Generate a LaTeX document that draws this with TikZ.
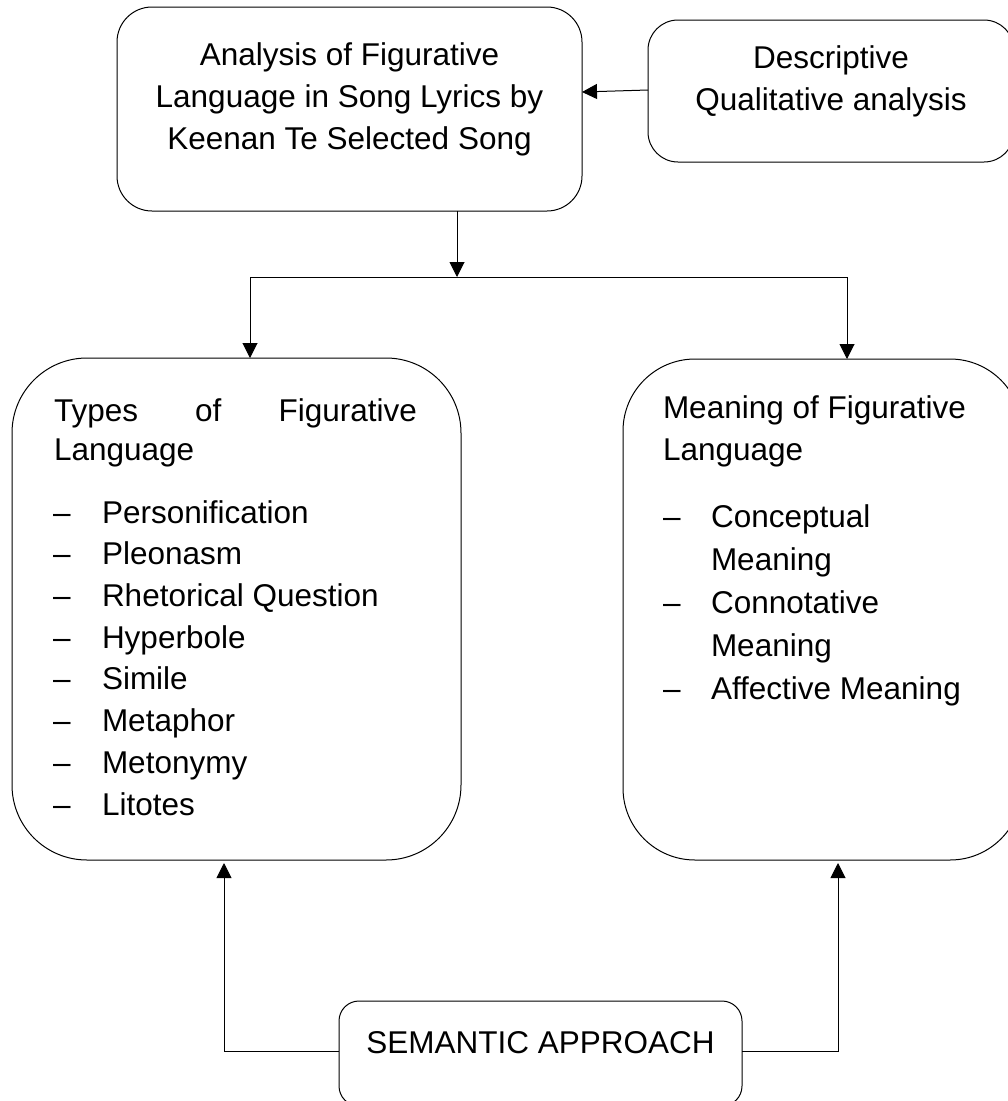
\documentclass[tikz,border=0pt]{standalone}
\usepackage{fontspec}
\setmainfont{Liberation Sans}
\usetikzlibrary{arrows.meta,calc}
\begin{document}
\begin{tikzpicture}[x=1pt,y=-1pt,
  box/.style={draw=black,line width=1pt,inner sep=0pt,outer sep=0pt,anchor=north west},
  txt/.style={inner sep=0pt,outer sep=0pt,anchor=base,font=\fontsize{31.5}{42}\selectfont},
  txtl/.style={txt,anchor=base west},
  arr/.style={line width=1pt,-{Triangle[length=15pt,width=15pt]}},
  ln/.style={line width=1pt}]
\useasboundingbox (0,0) rectangle (1008,1101);
\clip (0,0) rectangle (1008,1101);
% boxes
\node[box,rounded corners=35pt,minimum width=465pt,minimum height=204pt] (top) at (117,7) {};
\node[box,rounded corners=30pt,minimum width=366pt,minimum height=142pt] (desc) at (648,20) {};
\node[box,rounded corners=75pt,minimum width=449pt,minimum height=502pt] (left) at (12,358) {};
\node[box,rounded corners=72pt,minimum width=399pt,minimum height=501pt] (right) at (623,359) {};
\node[box,rounded corners=20pt,minimum width=403pt,minimum height=105pt] (sem) at (339,1001) {};
% texts
\node[txt] (t1) at (349.5,65) {Analysis of Figurative};
\node[txt] (t2) at (349.5,107) {Language in Song Lyrics by};
\node[txt] (t3) at (349.5,149) {Keenan Te Selected Song};
\node[txt] (d1) at (831,68) {Descriptive};
\node[txt] (d2) at (831,110) {Qualitative analysis};
\node[txt] (s1) at (540.5,1053) {SEMANTIC APPROACH};
% left box
\node[txtl] (lh1) at (54,421) {\makebox[363pt][s]{Types\hfill of\hfill Figurative}};
\node[txtl] (lh2) at (54,460) {Language};
\foreach \i/\t/\y in {1/Personification/523,2/Pleonasm/564.7,3/Rhetorical Question/606.4,4/Hyperbole/648.1,5/Simile/689.8,6/Metaphor/731.5,7/Metonymy/773.2,8/Litotes/815}{
  \node[txtl] (ld\i) at (53,\y) {–};
  \node[txtl] (li\i) at (102,\y) {\t};
}
% right box
\node[txtl] (rh1) at (663,418) {Meaning of Figurative};
\node[txtl] (rh2) at (663,460) {Language};
\foreach \i/\d/\t/\y in {1/–/Conceptual/527,2//Meaning/570,3/–/Connotative/613,4//Meaning/656,5/–/Affective Meaning/699}{
  \node[txtl] (rd\i) at (663,\y) {\d};
  \node[txtl] (ri\i) at (711,\y) {\t};
}
% connectors
\coordinate (j) at (457,277);
\coordinate (jl) at (250,277);
\coordinate (jr) at (847,277);
\coordinate (sl) at (224,1051);
\coordinate (sr) at (838,1051);
\draw[arr] ($(desc.west)+(0,-1)$) -- ($(desc.west -| top.east)+(0,1)$);
\draw[arr] (top.south -| j) -- (j);
\draw[ln] (jl) -- (jr);
\draw[arr] (jl) -- (jl |- left.north);
\draw[arr] (jr) -- (jr |- right.north);
\draw[arr] (sem.west |- sl) -- (sl) -- ($(sl |- left.south)+(0,3)$);
\draw[arr] (sem.east |- sr) -- (sr) -- ($(sr |- right.south)+(0,3)$);
\end{tikzpicture}
\end{document}
